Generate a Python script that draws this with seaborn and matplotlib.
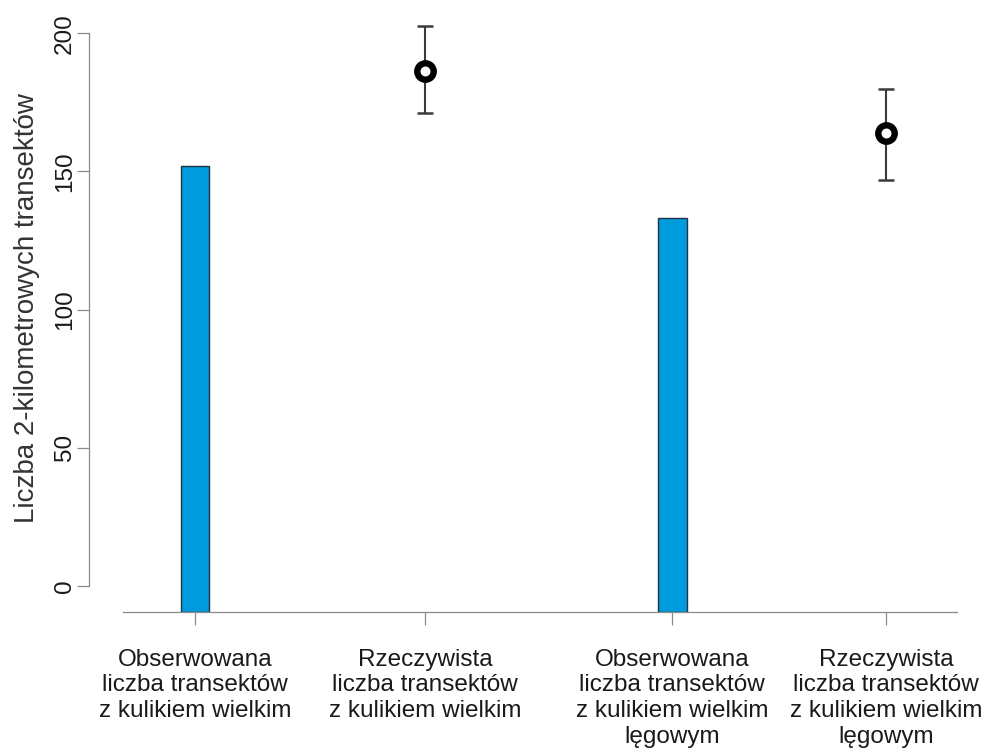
import numpy as np
import pandas as pd
import matplotlib
matplotlib.use("Agg")
import matplotlib.pyplot as plt
import seaborn as sns

# ---- data ----
categories = [
    "Obserwowana\nliczba transektów\nz kulikiem wielkim",
    "Rzeczywista\nliczba transektów\nz kulikiem wielkim",
    "Obserwowana\nliczba transektów\nz kulikiem wielkim\nlęgowym",
    "Rzeczywista\nliczba transektów\nz kulikiem wielkim\nlęgowym",
]
observed_values = [152, 133]          # bars (categories 1 and 3)
estimated_values = [186.5, 164]       # points (categories 2 and 4)
estimated_low = [171, 147]
estimated_high = [202.5, 180]
y_ticks = [0, 50, 100, 150, 200]
y_label = "Liczba 2-kilometrowych transektów"

# ---- layout ----
x_pos = [0.0, 1.0, 2.074, 3.004]
y_min = -9.5

sns.set_theme(style="white")
plt.rcParams['font.family'] = ['Liberation Sans', 'DejaVu Sans']

fig = plt.figure(figsize=(9.87, 7.49), dpi=100)
ax = fig.add_axes([89/987, 1 - 612/749, (960-89)/987, (612-20)/749])

grey = "#8a8a8a"
txt = "#1a1a1a"

# bars (extend down to the axis line)
obs_x = [x_pos[0], x_pos[2]]
ax.bar(obs_x, np.array(observed_values) - y_min, bottom=y_min, width=0.126,
       color="#009BDD", edgecolor="#1d3440", linewidth=1.0, zorder=2)

# estimates with error bars
est_x = [x_pos[1], x_pos[3]]
est = np.array(estimated_values)
yerr = np.vstack([est - np.array(estimated_low), np.array(estimated_high) - est])
ax.errorbar(est_x, est, yerr=yerr, fmt='none', ecolor="#3a3a3a",
            elinewidth=1.5, capsize=5.5, capthick=1.8, zorder=2)
df = pd.DataFrame({"x": est_x, "y": est})
sns.scatterplot(data=df, x="x", y="y", ax=ax, marker='o', s=140,
                facecolor="white", edgecolor="black", linewidth=4.6, zorder=3)

ax.set_xlim((89-195)/230, (960-195)/230)
ax.set_ylim(y_min, (585.7-20)/2.762)

for s in ["top", "right"]:
    ax.spines[s].set_visible(False)
ax.spines["left"].set_bounds(0, 200)
ax.spines["bottom"].set_bounds((123-195)/230, (957-195)/230)
for s in ["left", "bottom"]:
    ax.spines[s].set_color(grey)
    ax.spines[s].set_linewidth(0.9)

ax.set_yticks(y_ticks)
ax.set_yticklabels([str(t) for t in y_ticks], rotation=90, va="center",
                   fontsize=17.5, color=txt)
ax.set_xticks(x_pos)
ax.set_xticklabels(categories, fontsize=17.5, color=txt)
for lab in ax.get_xticklabels():
    lab.set_linespacing(1.22)
ax.tick_params(axis="y", length=8.6, width=0.9, color=grey, pad=1.0, left=True)
ax.tick_params(axis="x", length=9.4, width=0.9, color=grey, pad=17, bottom=True)

ax.set_xlabel("")
ax.set_ylabel(y_label, fontsize=20, color="#333333")
ax.yaxis.set_label_coords(-(89-40)/(960-89), (612-308)/(612-20))

fig.savefig("out.png", dpi=100)
